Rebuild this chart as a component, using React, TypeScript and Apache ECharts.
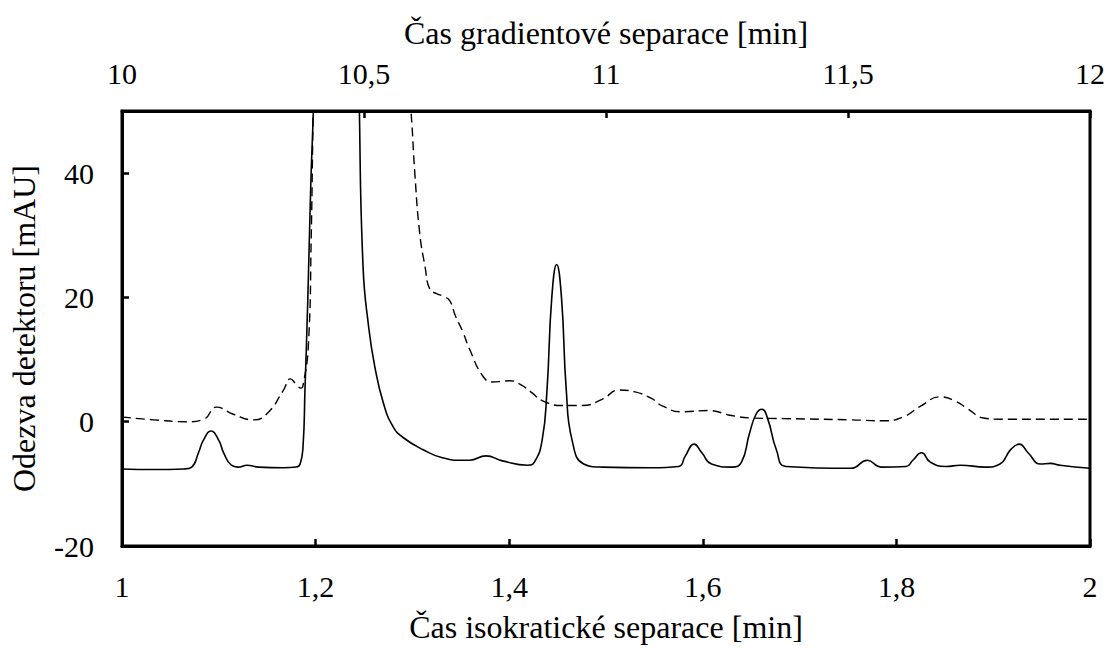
import React, { useEffect, useRef } from "react";
import * as echarts from "echarts";

// Isocratic separation (solid line) – time [min], response [mAU]
const isoTime = [
  1.0, 1.033, 1.064, 1.072, 1.079, 1.084, 1.092, 1.1, 1.105, 1.113, 1.12, 1.129, 1.141, 1.167, 1.18, 1.184,
  1.187, 1.189, 1.192, 1.195, 1.198, 1.205, 1.215, 1.225, 1.235, 1.242, 1.245, 1.249, 1.255, 1.261, 1.27,
  1.28, 1.29, 1.311, 1.331, 1.352, 1.359, 1.376, 1.393, 1.419, 1.426, 1.434, 1.439, 1.444, 1.449, 1.454,
  1.459, 1.465, 1.477, 1.496, 1.547, 1.575, 1.582, 1.591, 1.599, 1.609, 1.63, 1.64, 1.648, 1.655, 1.661,
  1.667, 1.676, 1.686, 1.753, 1.77, 1.784, 1.81, 1.817, 1.826, 1.835, 1.851, 1.866, 1.892, 1.907, 1.918,
  1.927, 1.936, 1.949, 1.959, 1.969, 2.0,
];
const isoResponse = [
  -7.6, -7.7, -7.6, -7.3, -5.0, -3.0, -1.5, -3.0, -5.0, -7.0, -7.3, -7.0, -7.3, -7.4, -7.3, -6.8,
  -4, 5, 20, 38, 52, 100, 200, 250, 180, 80, 52, 25, 15, 9, 3,
  -0.8, -2.5, -4.5, -5.8, -6.2, -6.2, -5.5, -6.3, -7.0, -6.5, -3, 5, 20, 25.3, 20,
  5, -3, -6.8, -7.3, -7.4, -7.2, -5.5, -3.6, -5.0, -6.8, -7.3, -6.5, -2, 1.2, 2.0,
  0.5, -4.5, -7.2, -7.5, -6.2, -7.3, -7.2, -6.2, -5.0, -6.5, -7.2, -7.0, -7.3, -6.8, -4.5,
  -3.6, -5.0, -6.8, -6.7, -7.0, -7.5,
];

// Gradient separation (dashed line) – time [min], response [mAU]
const gradTime = [
  10.0, 10.066, 10.134, 10.169, 10.195, 10.23, 10.272, 10.302, 10.333, 10.348, 10.36, 10.37, 10.374,
  10.385, 10.391, 10.395, 10.42, 10.5, 10.56, 10.59, 10.597, 10.605, 10.615, 10.626, 10.636, 10.65,
  10.663, 10.677, 10.689, 10.704, 10.718, 10.745, 10.765, 10.786, 10.8, 10.821, 10.848, 10.868, 10.909,
  10.951, 10.992, 11.027, 11.06, 11.095, 11.115, 11.156, 11.212, 11.259, 11.3, 11.368, 11.506, 11.574,
  11.615, 11.65, 11.691, 11.722, 11.747, 11.78, 11.815, 12.0,
];
const gradResponse = [
  0.75, 0.3, 0.0, 0.4, 2.35, 1.2, 0.3, 1.5, 5.0, 6.9, 6.0, 5.4, 5.8,
  12.2, 30, 50, 150, 200, 100, 55, 50, 40, 30.4, 25, 21.3, 20.6,
  20.2, 19.5, 17, 14.5, 11.7, 7.4, 6.4, 6.5, 6.6, 6.1, 4.6, 3.4, 2.6,
  2.6, 3.6, 5.1, 4.8, 3.7, 2.6, 1.6, 1.8, 1.0, 0.6, 0.5, 0.3, 0.15,
  0.8, 2.5, 4.0, 3.3, 2.1, 0.6, 0.4, 0.4,
];

const FONT = "Times New Roman, Liberation Serif, DejaVu Serif, serif";
const comma = (v: number) => String(+v.toFixed(2)).replace(".", ",");

export default function App() {
  const ref = useRef<HTMLDivElement>(null);
  useEffect(() => {
    if (!ref.current) return;
    const chart = echarts.init(ref.current, undefined, { renderer: "svg" });
    const axisCommon = {
      axisLine: { show: true, onZero: false, lineStyle: { color: "#000", width: 3 } },
      axisTick: { show: true, inside: true, length: 7, lineStyle: { color: "#000", width: 2.5 } },
      splitLine: { show: false },
      nameTextStyle: { fontFamily: FONT, fontSize: 32, color: "#000" },
    };
    const label = { fontFamily: FONT, fontSize: 30, color: "#000" };
    chart.setOption({
      animation: false,
      backgroundColor: "#fff",
      textStyle: { fontFamily: FONT },
      grid: { left: 118, right: 20, top: 111, bottom: 100, show: true, borderColor: "#000", borderWidth: 3, backgroundColor: "transparent" },
      xAxis: [
        {
          ...axisCommon,
          type: "value",
          position: "bottom",
          min: 1,
          max: 2,
          interval: 0.2,
          name: "Čas isokratické separace [min]",
          nameLocation: "middle",
          nameGap: 65,
          axisLabel: { ...label, margin: 25, formatter: comma },
        },
        {
          ...axisCommon,
          type: "value",
          position: "top",
          min: 10,
          max: 12,
          interval: 0.5,
          name: "Čas gradientové separace [min]",
          nameLocation: "middle",
          nameGap: 62,
          axisLabel: { ...label, margin: 23, formatter: comma },
        },
      ],
      yAxis: {
        ...axisCommon,
        type: "value",
        min: -20,
        max: 50,
        interval: 20,
        name: "Odezva detektoru [mAU]",
        nameLocation: "middle",
        nameGap: 82,
        axisLabel: {
          ...label,
          margin: 28,
          formatter: (v: number) => (v === 50 ? "" : String(v)),
        },
      },
      series: [
        {
          type: "line",
          xAxisIndex: 0,
          data: isoTime.map((t, i) => [t, isoResponse[i]]),
          showSymbol: false,
          smooth: 0.5,
          clip: true,
          lineStyle: { color: "#000", width: 1.6 },
        },
        {
          type: "line",
          xAxisIndex: 1,
          data: gradTime.map((t, i) => [t, gradResponse[i]]),
          showSymbol: false,
          smooth: 0.5,
          clip: true,
          lineStyle: { color: "#000", width: 1.4, type: [9, 5] },
        },
      ],
    });
    return () => chart.dispose();
  }, []);
  return <div ref={ref} style={{ position: "fixed", left: 0, top: 0, width: 1110, height: 648, background: "#fff" }} />;
}
